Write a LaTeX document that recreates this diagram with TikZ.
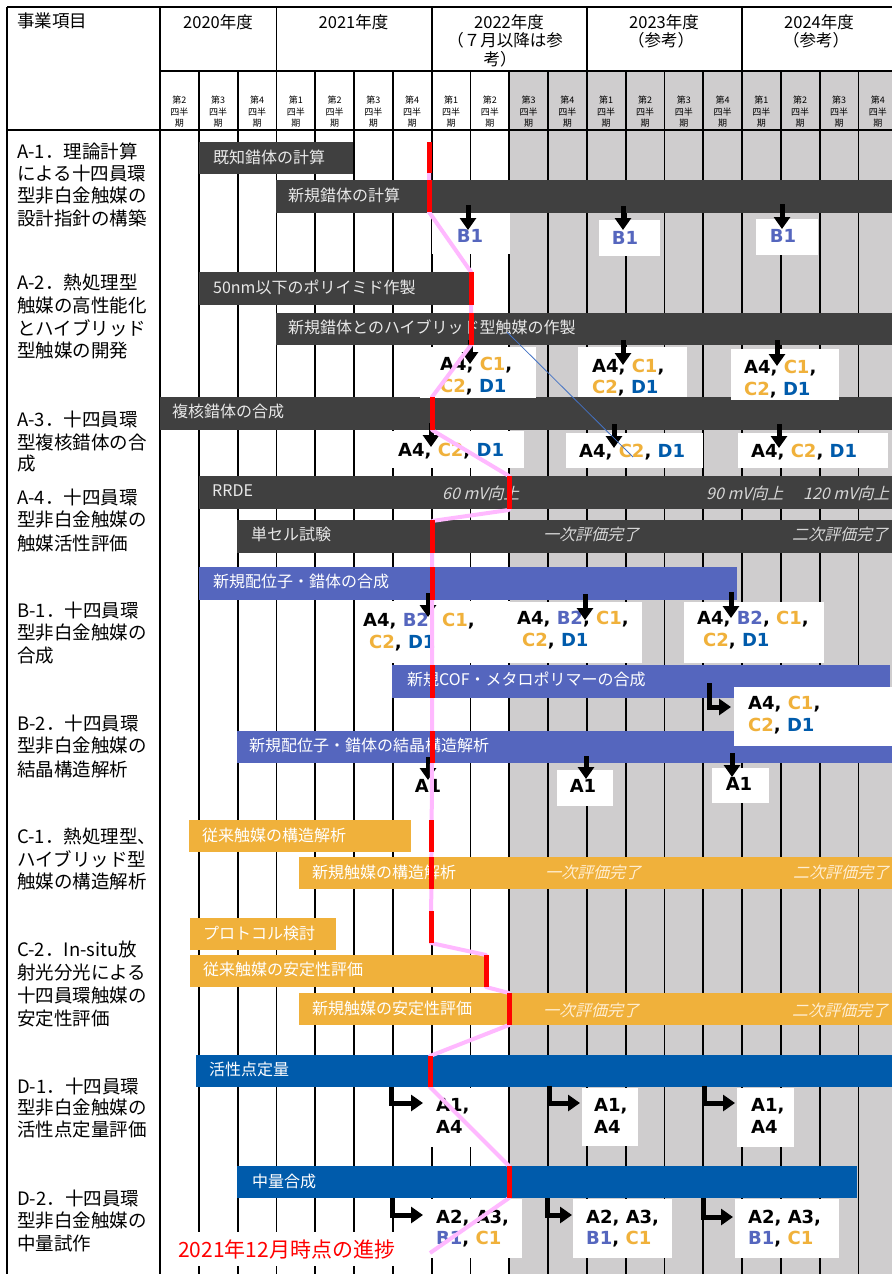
\documentclass[tikz,border=0pt]{standalone}
\usepackage{fontspec}
\setmainfont{Noto Sans CJK JP}
\newfontfamily\dvfont{DejaVu Sans}
\newfontfamily\jpitfont{Noto Sans CJK JP}[FakeSlant=0.25]
\usetikzlibrary{arrows.meta}
\definecolor{dgray}{RGB}{64,64,64}
\definecolor{bpurp}{RGB}{85,102,190}
\definecolor{orng}{RGB}{240,177,59}
\definecolor{dblue}{RGB}{0,91,171}
\definecolor{shadeg}{RGB}{207,205,206}
\definecolor{pinkline}{RGB}{255,185,255}
\definecolor{thinblue}{RGB}{68,114,196}
\definecolor{ltxt}{RGB}{232,232,232}
\definecolor{itgray}{RGB}{215,215,215}
\definecolor{itorng}{RGB}{255,238,210}
\newcommand\colB[1]{\textcolor{bpurp}{#1}}
\newcommand\colC[1]{\textcolor{orng}{#1}}
\newcommand\colD[1]{\textcolor{dblue}{#1}}
\newcommand\gbar[6]{\node[barnode,fill=#6,minimum width={#3-#2},minimum height={#5-#4}] (#1) at ({(#2+#3)/2},{(#4+#5)/2}) {};}
\newcommand\wbox[5]{\node[barnode,fill=white,minimum width={#3-#2},minimum height={#5-#4}] (#1) at ({(#2+#3)/2},{(#4+#5)/2}) {};}
\newcommand\dtxt[4]{\node[dl] (#1) at (#2,{#3+6.5}) {#4};}
\newcommand\dtxc[4]{\node[dlc] (#1) at (#2,{#3+6.5}) {#4};}
\newcommand\llab[3]{\node[llabel] (#1) at (17,#2) {#3};}
\tikzset{
 barnode/.style={rectangle,inner sep=0pt,outer sep=0pt,draw=none},
 gridl/.style={line width=1.8pt,black},
 blab/.style={anchor=west,inner sep=0pt,text=ltxt,font=\fontsize{16}{19}\selectfont},
 wlab/.style={blab,text=white},
 itl/.style={anchor=west,inner sep=0pt,text=itgray,font=\jpitfont\fontsize{16}{19}\selectfont},
 ito/.style={itl,text=itorng},
 llabel/.style={anchor=west,inner sep=0pt,font=\fontsize{18.5}{22}\selectfont},
 dl/.style={anchor=base west,inner sep=0pt,font=\dvfont\bfseries\fontsize{18}{21}\selectfont},
 dlc/.style={dl,anchor=base},
 darr/.style={line width=5pt,-{Triangle[width=16pt,length=12pt]}},
 pinkl/.style={line width=4pt,pinkline,line join=round},
 redseg/.style={line width=5pt,red},
 qtxt/.style={align=center,inner sep=0pt,font=\fontsize{9}{11.5}\selectfont},
 ytxt/.style={inner sep=0pt,font=\fontsize{16.5}{18}\selectfont},
}
\begin{document}
\begin{tikzpicture}[x=1pt,y=-1pt]
\fill[white] (0,0) rectangle (892,1274);
\useasboundingbox (0,0) rectangle (892,1274);
\clip (0,0) rectangle (892,1274);
% shading of reference quarters
\fill[shadeg] (508,71) rectangle (892,1274);
% grid
\foreach \k in {1,2,4,5,6,8,9,10,12,13,14,16,17,18} \draw[gridl] ({160+\k*38.8},71) -- ({160+\k*38.8},1274);
\foreach \k in {0,3,7,11,15} \draw[gridl] ({160+\k*38.8},7) -- ({160+\k*38.8},1274);
\draw[gridl] (7,7) -- (892,7);
\draw[gridl] (7,7) -- (7,1274);
\draw[gridl] (160,71) -- (892,71);
\draw[gridl] (7,130) -- (892,130);
% header texts
\node[anchor=west,inner sep=0pt,font=\fontsize{17.5}{20}\selectfont] (hitem) at (17,21) {事業項目};
\node[ytxt] (y20) at (218,22) {2020年度};
\node[ytxt] (y21) at (353.5,22) {2021年度};
\node[ytxt] (y22a) at (509,22) {2022年度};
\node[ytxt] (y22b) at (505,40) {（７月以降は参};
\node[ytxt] (y22c) at (500,59) {考）};
\node[ytxt] (y23a) at (664,22) {2023年度};
\node[ytxt] (y23b) at (661,40) {（参考）};
\node[ytxt] (y24a) at (819,22) {2024年度};
\node[ytxt] (y24b) at (816,40) {（参考）};
\foreach \q [count=\k from 0] in {2,3,4,1,2,3,4,1,2,3,4,1,2,3,4,1,2,3,4}
  \node[qtxt] (q\k) at ({160+(\k+0.5)*38.8},112) {第\q\\四半\\期};
% left labels
\llab{la1}{151}{A-1．理論計算}
\llab{la2}{173}{による十四員環}
\llab{la3}{196}{型非白金触媒の}
\llab{la4}{218}{設計指針の構築}
\llab{lb1}{282}{A-2．熱処理型}
\llab{lb2}{305}{触媒の高性能化}
\llab{lb3}{328}{とハイブリッド}
\llab{lb4}{351}{型触媒の開発}
\llab{lc1}{419}{A-3．十四員環}
\llab{lc2}{442}{型複核錯体の合}
\llab{lc3}{464}{成}
\llab{ld1}{497}{A-4．十四員環}
\llab{ld2}{520}{型非白金触媒の}
\llab{ld3}{543}{触媒活性評価}
\llab{le1}{610}{B-1．十四員環}
\llab{le2}{633}{型非白金触媒の}
\llab{le3}{656}{合成}
\llab{lf1}{723}{B-2．十四員環}
\llab{lf2}{746}{型非白金触媒の}
\llab{lf3}{769}{結晶構造解析}
\llab{lg1}{836}{C-1．熱処理型、}
\llab{lg2}{859}{ハイブリッド型}
\llab{lg3}{881}{触媒の構造解析}
\llab{lh1}{949}{C-2．In-situ放}
\llab{lh2}{972}{射光分光による}
\llab{lh3}{995}{十四員環触媒の}
\llab{lh4}{1018}{安定性評価}
\llab{li1}{1086}{D-1．十四員環}
\llab{li2}{1108}{型非白金触媒の}
\llab{li3}{1130}{活性点定量評価}
\llab{lj1}{1198}{D-2．十四員環}
\llab{lj2}{1221}{型非白金触媒の}
\llab{lj3}{1243}{中量試作}
% bars
\gbar{b1}{199}{353}{142}{174}{dgray}
\gbar{b2}{276}{892}{180}{213}{dgray}
\gbar{b3}{199}{469}{272}{305}{dgray}
\gbar{b4}{276}{892}{313}{345}{dgray}
\gbar{b5}{160}{892}{397}{430}{dgray}
\gbar{b6}{199}{892}{476}{509}{dgray}
\gbar{b7}{237}{892}{520}{553}{dgray}
\gbar{b8}{199}{737}{567}{600}{bpurp}
\gbar{b9}{392}{890}{665}{698}{bpurp}
\gbar{b10}{237}{892}{731}{763}{bpurp}
\gbar{b11}{189}{411}{820}{852}{orng}
\gbar{b12}{299}{892}{857}{889}{orng}
\gbar{b13}{190}{336}{918}{950}{orng}
\gbar{b14}{190}{487}{955}{987}{orng}
\gbar{b15}{299}{892}{993}{1025}{orng}
\gbar{b16}{196}{892}{1055}{1087}{dblue}
\gbar{b17}{237}{857}{1166}{1198}{dblue}
% bar labels
\node[blab] (t1) at (213,157) {既知錯体の計算};
\node[blab] (t2) at (288,195) {新規錯体の計算};
\node[blab] (t3) at (213,287) {50nm以下のポリイミド作製};
\node[blab] (t4) at (288,327) {新規錯体とのハイブリッド型触媒の作製};
\node[blab] (t5) at (172,411) {複核錯体の合成};
\node[blab] (t6) at (212,491) {RRDE};
\node[blab] (t7) at (251,534) {単セル試験};
\node[wlab] (t8) at (213,581) {新規配位子・錯体の合成};
\node[wlab] (t9) at (407,679) {新規COF・メタロポリマーの合成};
\node[wlab] (t10) at (249,745) {新規配位子・錯体の結晶構造解析};
\node[wlab] (t11) at (202,835) {従来触媒の構造解析};
\node[wlab] (t12) at (312,872) {新規触媒の構造解析};
\node[wlab] (t13) at (203,933) {プロトコル検討};
\node[wlab] (t14) at (203,969) {従来触媒の安定性評価};
\node[wlab] (t15) at (312,1008) {新規触媒の安定性評価};
\node[wlab] (t16) at (209,1069) {活性点定量};
\node[wlab] (t17) at (252,1181) {中量合成};
% italic notes
\node[itl] (i1) at (442,493) {60 mV向上};
\node[itl] (i2) at (706,493) {90 mV向上};
\node[itl] (i3) at (803,493) {120 mV向上};
\node[itl] (i4) at (543,534) {一次評価完了};
\node[itl] (i5) at (792,534) {二次評価完了};
\node[ito] (i6) at (545,872) {一次評価完了};
\node[ito] (i7) at (793,872) {二次評価完了};
\node[ito] (i8) at (543,1010) {一次評価完了};
\node[ito] (i9) at (792,1010) {二次評価完了};
% white deliverable boxes
\wbox{w1}{432}{510}{213}{254}
\wbox{w2}{599}{660}{220}{256}
\wbox{w3}{756}{818}{219}{255}
\wbox{w4}{420}{536}{347}{398}
\wbox{w5}{578}{687}{347}{397}
\wbox{w6}{731}{839}{349}{400}
\wbox{w7}{385}{524}{431}{468}
\wbox{w8}{566}{703}{433}{468}
\wbox{w9}{738}{888}{433}{468}
\wbox{w10}{358}{510}{601}{663}
\wbox{w11}{510}{642}{602}{663}
\wbox{w12}{684}{824}{602}{663}
\wbox{w13}{734}{892}{687}{746}
\wbox{w14}{408}{455}{768}{802}
\wbox{w15}{557}{613}{770}{806}
\wbox{w16}{712}{769}{768}{803}
\wbox{w17}{425}{508}{1088}{1147}
\wbox{w18}{582}{638}{1088}{1146}
\wbox{w19}{737}{794}{1088}{1147}
\wbox{w20}{425}{522}{1199}{1258}
\wbox{w21}{573}{672}{1199}{1258}
\wbox{w22}{735}{839}{1199}{1258}
% deliverable texts
\dtxc{d1}{470}{236}{\colB{B1}}
\dtxc{d2}{625}{238}{\colB{B1}}
\dtxc{d3}{783}{236}{\colB{B1}}
\dtxt{d4a}{440}{364}{A4, \colC{C1},}
\dtxt{d4b}{440}{386}{\colC{C2}, \colD{D1}}
\dtxt{d5a}{592}{366}{A4, \colC{C1},}
\dtxt{d5b}{592}{387}{\colC{C2}, \colD{D1}}
\dtxt{d6a}{744}{367}{A4, \colC{C1},}
\dtxt{d6b}{744}{389}{\colC{C2}, \colD{D1}}
\dtxt{d7}{398}{450}{A4, \colC{C2}, \colD{D1}}
\dtxt{d8}{579}{451}{A4, \colC{C2}, \colD{D1}}
\dtxt{d9}{751}{451}{A4, \colC{C2}, \colD{D1}}
\dtxt{d10a}{363}{620}{A4, \colB{B2}, \colC{C1},}
\dtxt{d10b}{369}{642}{\colC{C2}, \colD{D1}}
\dtxt{d11a}{517}{618}{A4, \colB{B2}, \colC{C1},}
\dtxt{d11b}{522}{640}{\colC{C2}, \colD{D1}}
\dtxt{d12a}{697}{618}{A4, \colB{B2}, \colC{C1},}
\dtxt{d12b}{703}{640}{\colC{C2}, \colD{D1}}
\dtxt{d13a}{748}{703}{A4, \colC{C1},}
\dtxt{d13b}{748}{725}{\colC{C2}, \colD{D1}}
\dtxc{d14}{428}{786}{A1}
\dtxc{d15}{583}{786}{A1}
\dtxc{d16}{739}{784}{A1}
\dtxt{d17a}{436}{1105}{A1,}
\dtxt{d17b}{436}{1127}{A4}
\dtxt{d18a}{594}{1105}{A1,}
\dtxt{d18b}{594}{1127}{A4}
\dtxt{d19a}{751}{1105}{A1,}
\dtxt{d19b}{751}{1127}{A4}
\dtxt{d20a}{436}{1217}{A2, A3,}
\dtxt{d20b}{436}{1238}{\colB{B1}, \colC{C1}}
\dtxt{d21a}{586}{1217}{A2, A3,}
\dtxt{d21b}{586}{1238}{\colB{B1}, \colC{C1}}
\dtxt{d22a}{748}{1217}{A2, A3,}
\dtxt{d22b}{748}{1238}{\colB{B1}, \colC{C1}}
% arrow end points
\foreach \n/\x/\a/\b in {p1/468/205/230, p2/623/206/230, p3/782/204/229,
  p4/470/340/364, p5/623/340/365, p6/777/340/366,
  p7/431/423/447, p8/614/424/448, p9/779/424/448,
  p10/428/593/617, p11/585/594/620, p12/731/592/618,
  p14/428/757/780, p15/586/756/779, p16/732/753/777}
  {\coordinate (\n s) at (\x,\a); \coordinate (\n e) at (\x,\b);}
\foreach \n in {p1,p2,p3,p4,p5,p6,p7,p8,p9,p10,p11,p12,p14,p15,p16}
  \draw[darr] (\n s) -- (\n e);
% elbow arrows
\foreach \n/\x/\a/\ex/\ey in {e13/709/683/731/707,
  e17/391/1087/423/1103, e18/549/1086/580/1103, e19/704/1086/735/1103,
  e20/392/1198/423/1215, e21/547/1198/572/1215, e22/703/1198/733/1217}
  {\coordinate (\n s) at (\x,\a); \coordinate (\n e) at (\ex,\ey);}
\foreach \n in {e13,e17,e18,e19,e20,e21,e22}
  \draw[darr] (\n s) |- (\n e);
% progress caption
\node[fill=white,inner xsep=8pt,inner ysep=7pt,anchor=west,text=red,font=\fontsize{21}{24}\selectfont] (prog) at (170,1249) {2021年12月時点の進捗};
% stray thin line
\coordinate (tl1) at (507,332);
\coordinate (tl2) at (633,457);
\draw[thinblue,line width=0.8pt] (tl1) -- (tl2);
% progress line
\draw[pinkl] (429,142) -- (429,212) -- (471,272) -- (471,345) -- (432,397) -- (432,430)
  -- (509,476) -- (509,510) -- (432,521) -- (432,763) -- (431,943) -- (486,955)
  -- (486,987) -- (509,993) -- (509,1025) -- (430,1056) -- (430,1087)
  -- (509,1166) -- (509,1198) -- (430,1253);
\foreach \x/\a/\b in {429/142/173, 429/180/212, 471/272/305, 471/313/345, 432/397/430,
  509/476/509, 432/520/553, 432/567/600, 432/665/698, 432/731/763, 431/820/852,
  431/857/889, 431/911/943, 486/955/987, 509/993/1025, 430/1056/1087, 509/1166/1198}
  \draw[redseg] (\x,\a) -- (\x,\b);
\end{tikzpicture}
\end{document}
